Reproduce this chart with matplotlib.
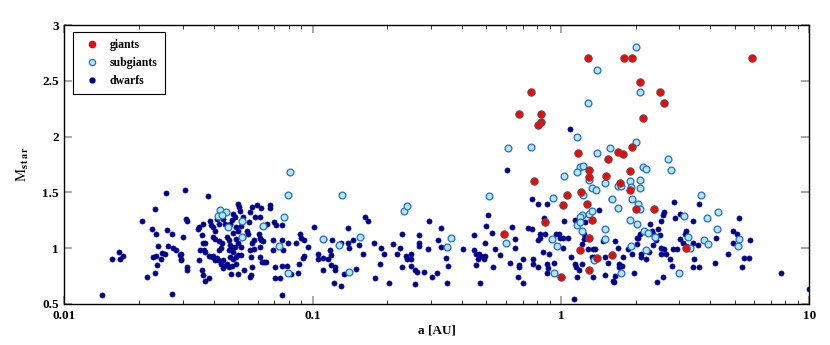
import matplotlib
matplotlib.use("Agg")
import matplotlib.pyplot as plt
from matplotlib.lines import Line2D
from matplotlib.ticker import LogLocator, NullFormatter, FixedLocator

plt.rcParams['font.family'] = ['Liberation Serif', 'DejaVu Serif']
plt.rcParams['mathtext.fontset'] = 'stix'

# giants
giants_a = [1.29, 1.80, 1.93, 5.86, 2.09, 2.50, 2.59, 2.14, 1.17, 1.54, 1.69, 1.78, 1.93,
            0.757, 0.68, 0.828, 0.83, 0.807, 0.778,
            1.30, 1.30, 1.52, 1.90, 1.90, 1.73, 1.06, 1.20, 1.02, 1.27, 2.0, 2.36, 1.33,
            1.30, 1.19, 1.40, 1.61, 1.30, 1.0, 3.18, 0.86, 0.589]
giants_m = [2.70, 2.70, 2.70, 2.70, 2.49, 2.40, 2.30, 2.17, 1.85, 1.80, 1.86, 1.84, 1.91,
            2.40, 2.20, 2.20, 2.13, 2.10, 1.60,
            1.70, 1.64, 1.65, 1.69, 1.52, 1.58, 1.48, 1.50, 1.39, 1.40, 1.35, 1.35, 1.25,
            1.09, 0.98, 0.91, 0.94, 0.80, 0.74, 1.00, 1.23, 1.13]

# subgiants
subgiants_a = [0.0423, 0.0447, 0.0417, 0.043, 0.0518, 0.0457, 0.0632, 0.0766, 0.0729, 0.0798,
               0.0807, 0.0798, 0.052,
               0.131, 0.11, 0.128, 0.155, 0.14, 0.233, 0.239, 0.359, 0.349, 0.513, 0.598,
               0.925, 0.919, 0.94, 0.967, 0.614, 0.757,
               2.0, 1.40, 2.09, 1.29, 1.16, 1.57, 2.0, 1.40, 2.69, 1.19, 1.23, 2.14, 2.2, 2.77,
               1.16, 1.03, 1.30, 1.33, 1.39, 1.51, 1.69, 1.75, 1.90, 1.91, 2.08, 2.08, 1.23,
               1.60, 1.94, 2.05, 2.09, 1.69, 3.68, 4.31, 3.86, 3.14, 4.24, 5.23, 5.18, 3.78,
               3.92, 3.31, 3.26, 3.0, 1.89, 2.02, 2.16, 2.25, 2.39, 2.2, 1.91, 1.50, 1.51,
               1.75, 1.36, 1.21, 1.22, 1.19, 1.30, 1.33, 1.16, 1.19]
subgiants_m = [1.34, 1.32, 1.29, 1.30, 1.24, 1.19, 1.20, 1.28, 1.02, 0.78,
               1.68, 1.48, 1.10,
               1.48, 1.08, 1.03, 1.10, 0.79, 1.33, 1.38, 1.09, 1.01, 1.47, 1.05,
               1.45, 1.08, 0.78, 1.02, 1.90, 1.91,
               2.80, 2.60, 2.40, 2.30, 2.00, 1.90, 1.95, 1.85, 1.80, 1.73, 1.74, 1.73, 1.71, 1.70,
               1.68, 1.65, 1.61, 1.54, 1.52, 1.58, 1.56, 1.56, 1.60, 1.55, 1.61, 1.54, 1.48,
               1.44, 1.44, 1.40, 1.35, 1.36, 1.48, 1.32, 1.27, 1.29, 1.17, 1.08, 1.02, 1.07,
               1.04, 1.00, 1.10, 0.78, 1.25, 1.22, 1.15, 1.14, 1.10, 0.98, 1.02, 1.17, 1.08,
               0.78, 0.89, 1.15, 1.30, 1.28, 1.31, 1.33, 1.21, 1.23]

# dwarfs
dwarfs_a = [0.0142, 0.0156, 0.0166, 0.0172, 0.0168, 0.0206, 0.0215, 0.0225, 0.0231, 0.0233,
            0.0238, 0.0228, 0.0233, 0.0235, 0.0231, 0.0245, 0.0247, 0.0255, 0.0257, 0.0259,
            0.027, 0.0262, 0.0273, 0.0281, 0.027, 0.0291, 0.0294, 0.101, 0.105, 0.105,
            0.0307, 0.0378, 0.0501, 0.0506, 0.051, 0.0568, 0.0594, 0.0622, 0.0673, 0.0673,
            0.0558, 0.0586, 0.0613, 0.0526, 0.0479, 0.0486, 0.0472, 0.0465, 0.0437, 0.0443,
            0.041, 0.042, 0.0385, 0.039, 0.0363, 0.0347, 0.0344, 0.0309, 0.0312, 0.0299,
            0.0357, 0.036, 0.0368, 0.0365, 0.0353, 0.0368, 0.0398, 0.0403, 0.0398, 0.0403,
            0.0421, 0.0432, 0.0429, 0.0421, 0.0451, 0.046, 0.0465, 0.0475, 0.046, 0.0477,
            0.0485, 0.0501, 0.0515, 0.0493, 0.0477, 0.0501, 0.0493, 0.0515, 0.0523, 0.0542,
            0.0553, 0.055, 0.0568, 0.056, 0.058, 0.0614, 0.0622, 0.063, 0.0656, 0.07,
            0.0713, 0.0755, 0.069, 0.0693, 0.0614, 0.0626, 0.0635, 0.0646, 0.0568, 0.0564,
            0.056, 0.0528, 0.0501, 0.0468, 0.0434, 0.044, 0.0429, 0.0403, 0.0392, 0.0383,
            0.0398, 0.041, 0.0416, 0.0437, 0.0465, 0.0477, 0.0492, 0.0501, 0.049, 0.0472,
            0.046, 0.0452, 0.0358, 0.0362, 0.037, 0.0383, 0.0313, 0.0313, 0.0296, 0.0296,
            0.0347, 0.0563, 0.075, 0.0762, 0.0798, 0.0857, 0.0893, 0.09, 0.0922, 0.096,
            0.075, 0.0738, 0.0706, 0.0703, 0.075, 0.088, 0.0875, 0.0815, 0.0789, 0.091,
            0.0925, 0.061, 0.0578, 0.0512, 0.0614,
            0.111, 0.12, 0.11, 0.115, 0.117, 0.118, 0.11, 0.118, 0.123, 0.123,
            0.122, 0.130, 0.130, 0.134, 0.139, 0.139, 0.14, 0.145, 0.150, 0.153,
            0.159, 0.163, 0.167, 0.176, 0.178, 0.186, 0.189, 0.194, 0.203, 0.21,
            0.218, 0.224, 0.228, 0.228, 0.237, 0.239, 0.248, 0.25, 0.25, 0.258,
            0.264, 0.259, 0.267, 0.269, 0.269, 0.282, 0.293, 0.292, 0.301, 0.319,
            0.318, 0.328, 0.329, 0.343, 0.351, 0.348, 0.404, 0.445, 0.445, 0.455,
            0.463, 0.469, 0.478, 0.488, 0.493, 0.455, 0.474, 0.493, 0.497, 0.508,
            0.527, 0.532, 0.543, 0.567, 0.604, 0.624, 0.634, 0.65, 0.654, 0.674,
            0.677, 0.68, 0.702, 0.704, 0.737, 0.763, 0.767, 0.774, 0.774, 0.81,
            0.805, 0.807, 0.823, 0.822, 0.844, 0.855, 0.88, 0.861, 0.88, 0.88,
            0.89, 0.895, 0.94, 0.957,
            1.03, 1.13, 0.98, 0.988, 1.02, 1.07, 1.02, 1.10, 1.15, 1.164,
            1.14, 1.186, 1.24, 1.29, 1.34, 1.37, 1.36, 1.33, 1.22, 1.21,
            1.24, 1.25, 1.19, 1.14, 1.34, 1.42, 1.48, 1.51, 1.51, 1.55,
            1.585, 1.65, 1.69, 1.71, 1.754, 1.72, 1.615, 1.63, 1.65, 1.78,
            1.86, 1.94, 1.97, 2.02, 2.05, 2.08, 2.03, 2.1, 2.11, 2.2,
            2.27, 2.28, 2.32, 2.355, 2.41, 2.355, 2.47, 2.5, 2.54, 2.57,
            2.6, 2.52, 2.6, 2.54, 2.65, 2.43, 2.57, 2.75, 2.79, 2.85,
            2.88, 2.82, 2.94, 3.01, 3.01, 3.09, 3.16, 3.18, 3.2, 3.39,
            3.39, 3.43, 3.39, 3.58, 3.6, 3.6, 4.17, 4.2, 4.72, 4.91,
            4.94, 5.1, 5.22, 5.35, 5.46, 5.73, 5.77, 7.67, 10.0, 1.09]
dwarfs_m = [0.58, 0.90, 0.97, 0.93, 0.90, 1.24, 0.74, 1.17, 1.35, 1.13,
            1.02, 0.92, 0.93, 0.85, 0.78, 0.90, 0.96, 0.95, 1.49, 1.16,
            1.13, 1.02, 1.00, 0.98, 0.59, 0.94, 0.90, 1.19, 0.95, 0.90,
            1.52, 1.47, 1.40, 1.37, 1.33, 1.37, 1.39, 1.36, 1.39, 1.36,
            1.32, 1.28, 1.28, 1.28, 1.31, 1.28, 1.25, 1.22, 1.26, 1.22,
            1.26, 1.22, 1.24, 1.21, 1.22, 1.19, 1.17, 1.26, 1.24, 1.10,
            1.12, 1.05, 1.05, 0.98, 0.98, 0.97, 1.19, 1.15, 1.10, 1.08,
            1.06, 1.05, 1.00, 0.98, 1.10, 1.07, 1.03, 1.01, 0.98, 0.97,
            1.01, 1.05, 1.01, 1.08, 1.14, 1.15, 1.19, 1.20, 1.10, 1.15,
            1.23, 1.13, 1.05, 0.98, 1.07, 1.09, 1.07, 1.06, 1.22, 1.23,
            1.21, 1.21, 0.98, 1.07, 0.92, 0.88, 0.88, 0.88, 0.83, 0.76,
            0.74, 0.80, 0.77, 0.77, 0.82, 0.84, 0.86, 0.89, 0.92, 0.93,
            0.93, 0.91, 0.89, 0.89, 0.92, 0.90, 0.92, 0.94, 0.86, 0.84,
            0.83, 0.86, 0.80, 0.76, 0.71, 0.73, 0.83, 0.80, 0.95, 0.89,
            0.89, 0.92, 1.07, 0.98, 1.05, 1.05, 1.13, 1.09, 1.07, 1.01,
            0.84, 0.73, 0.83, 0.73, 0.58, 0.86, 0.78, 0.77, 0.84, 0.91,
            0.93, 1.13, 0.99, 0.94, 1.01,
            1.08, 1.07, 0.91, 0.90, 0.98, 0.94, 0.80, 0.85, 0.83, 0.80,
            0.69, 0.66, 1.05, 0.77, 1.18, 1.05, 1.00, 1.07, 0.81, 1.03,
            0.95, 1.28, 1.24, 1.05, 0.73, 0.86, 1.00, 0.95, 0.69, 1.04,
            0.95, 1.00, 1.13, 0.83, 0.93, 0.90, 0.90, 0.95, 0.84, 0.80,
            0.79, 0.68, 1.02, 1.05, 1.12, 0.79, 1.24, 0.99, 0.74, 1.07,
            0.78, 1.01, 1.18, 0.91, 0.84, 0.69, 0.99, 0.98, 1.12, 0.95,
            0.90, 0.95, 0.93, 0.90, 0.93, 0.85, 0.69, 1.05, 1.20, 1.30,
            1.14, 0.83, 0.99, 0.94, 1.70, 0.87, 1.19, 1.00, 1.08, 0.74,
            0.83, 0.85, 0.90, 0.69, 1.18, 1.17, 1.44, 0.90, 0.86, 1.40,
            0.83, 1.07, 1.13, 1.09, 0.97, 1.27, 1.40, 1.13, 0.86, 0.78,
            0.82, 0.95, 0.87, 1.13,
            1.24, 0.54, 1.13, 1.09, 1.09, 1.09, 1.00, 0.92, 0.83, 0.74,
            0.86, 0.80, 1.08, 0.99, 0.99, 0.99, 0.92, 0.92, 0.86, 1.04,
            1.13, 1.23, 1.25, 1.25, 0.74, 1.34, 1.06, 0.92, 0.76, 0.87,
            1.44, 1.06, 1.00, 0.86, 0.84, 0.83, 0.71, 0.70, 0.75, 0.92,
            0.99, 0.95, 0.78, 1.09, 1.09, 1.13, 1.04, 0.95, 0.92, 0.90,
            0.97, 1.22, 1.15, 1.13, 1.07, 1.03, 1.17, 1.12, 1.24, 1.30,
            1.32, 1.00, 0.99, 0.95, 0.95, 0.70, 0.74, 0.90, 0.84, 1.41,
            1.27, 0.99, 0.99, 1.31, 1.08, 1.05, 1.13, 1.15, 1.02, 1.24,
            1.05, 0.90, 0.83, 1.03, 1.40, 0.83, 0.87, 1.09, 0.95, 1.05,
            1.15, 1.13, 1.27, 0.83, 0.91, 0.91, 1.07, 0.78, 0.63, 2.07]

fig = plt.figure(figsize=(8.3, 3.45), dpi=100)
ax = fig.add_axes([0.0776, 0.119, 0.8974, 0.8085])

ax.scatter(dwarfs_a, dwarfs_m, s=14, c='#000090', edgecolors='#000090', linewidths=0.4, zorder=2)
ax.scatter(subgiants_a, subgiants_m, s=24, c='#a8ecff', edgecolors='#2f66d0', linewidths=0.9, zorder=3)
ax.scatter(giants_a, giants_m, s=28, c='#ff0000', edgecolors='#555555', linewidths=0.8, zorder=4)

ax.set_xscale('log')
ax.set_xlim(0.01, 10)
ax.set_ylim(0.5, 3)

ax.xaxis.set_major_locator(FixedLocator([0.01, 0.1, 1, 10]))
ax.set_xticklabels(['0.01', '0.1', '1', '10'])
ax.xaxis.set_minor_locator(LogLocator(base=10, subs=range(2, 10)))
ax.xaxis.set_minor_formatter(NullFormatter())
ax.set_yticks([0.5, 1, 1.5, 2, 2.5, 3])
ax.set_yticklabels(['0.5', '1', '1.5', '2', '2.5', '3'])

ax.tick_params(which='major', direction='in', length=6, width=1.2, color='#999999',
               top=True, right=True, labelsize=9.5, pad=4)
ax.tick_params(which='minor', direction='in', length=3, width=0.7, color='#333333',
               top=True, right=True)
for lbl in ax.get_xticklabels() + ax.get_yticklabels():
    lbl.set_fontweight('bold')
for sp in ax.spines.values():
    sp.set_linewidth(1.0)

ax.set_xlabel('a [AU]', fontsize=9.5, fontweight='bold', labelpad=2)
ax.set_ylabel(r'M$_{\mathbf{s\,t\,a\,r}}$', fontsize=10.5, labelpad=8)

handles = [
    Line2D([], [], ls='none', marker='o', ms=4.5, mfc='#ff0000', mec='#ff0000'),
    Line2D([], [], ls='none', marker='o', ms=4.5, mfc='#a8ecff', mec='#2f66d0', mew=0.9),
    Line2D([], [], ls='none', marker='o', ms=3.5, mfc='#000090', mec='#000090'),
]
leg = ax.legend(handles, ['giants', 'subgiants', 'dwarfs'], loc='upper left',
                bbox_to_anchor=(0.012, 0.975), borderaxespad=0, fancybox=False, framealpha=1,
                edgecolor='black', prop={'weight': 'bold', 'size': 8.5},
                handletextpad=0.5, borderpad=0.6, labelspacing=0.5, handlelength=2.0)
leg.get_frame().set_linewidth(0.8)

fig.savefig('out.png', dpi=100)
